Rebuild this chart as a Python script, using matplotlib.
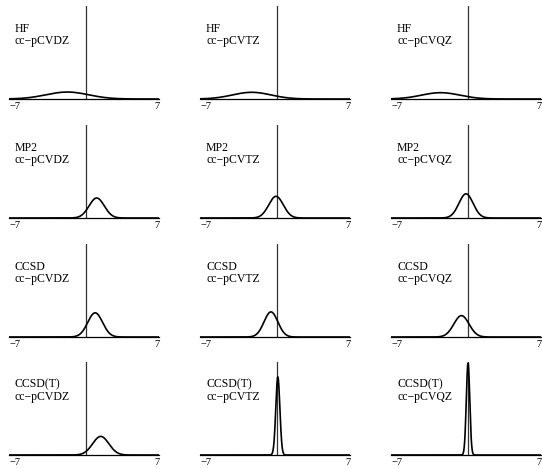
import numpy as np
import matplotlib.pyplot as plt

# panel labels
methods = ["HF", "MP2", "CCSD", "CCSD(T)"]
basis_sets = ["cc\u2212pCVDZ", "cc\u2212pCVTZ", "cc\u2212pCVQZ"]

# fitted normal curves (rows = method, cols = basis)
centers = [
    [-1.8, -2.5, -2.7],
    [1.1, -0.1, -0.2],
    [0.95, -0.6, -0.65],
    [1.5, 0.08, 0.0],
]
widths = [
    [2.1, 1.9, 1.9],
    [0.75, 0.72, 0.7],
    [0.73, 0.68, 0.75],
    [0.8, 0.2, 0.17],
]
peaks = [
    [0.075, 0.072, 0.068],
    [0.215, 0.233, 0.26],
    [0.26, 0.27, 0.23],
    [0.2, 0.84, 0.99],
]

tick_pos = [-7, 7]
tick_lab = ["\u22127", "7"]

plt.rcParams['font.family'] = ['Liberation Serif', 'DejaVu Serif']

W, H = 542, 469
fig = plt.figure(figsize=(W / 100, H / 100), dpi=100)

col_left = [8.5, 200, 391]
row_base = [99, 218, 337, 455]
ax_w, ax_h = 150, 93

x = np.linspace(-7.6, 7.2, 600)

for i, meth in enumerate(methods):
    for j, bas in enumerate(basis_sets):
        ax = fig.add_axes([col_left[j] / W, 1 - row_base[i] / H, ax_w / W, ax_h / H])
        ax.set_xlim(-7.6, 7.2)
        ax.set_ylim(0, 1)
        for s in ['top', 'left', 'right']:
            ax.spines[s].set_visible(False)
        ax.spines['bottom'].set_linewidth(0.9)
        ax.set_yticks([])
        ax.set_xticks(tick_pos)
        ax.set_xticklabels(tick_lab, fontsize=7.5)
        ax.tick_params(axis='x', length=0, pad=2.5)
        ax.patch.set_visible(False)

        ax.axvline(0, color='#333333', lw=0.9)
        y = peaks[i][j] * np.exp(-0.5 * ((x - centers[i][j]) / widths[i][j]) ** 2)
        ax.plot(x, y, color='black', lw=1.2)

        ax.text(-7, 0.82, f"{meth}\n{bas}", fontsize=8.5, va='top', ha='left',
                linespacing=1.0)

fig.savefig("out.png", dpi=100)
